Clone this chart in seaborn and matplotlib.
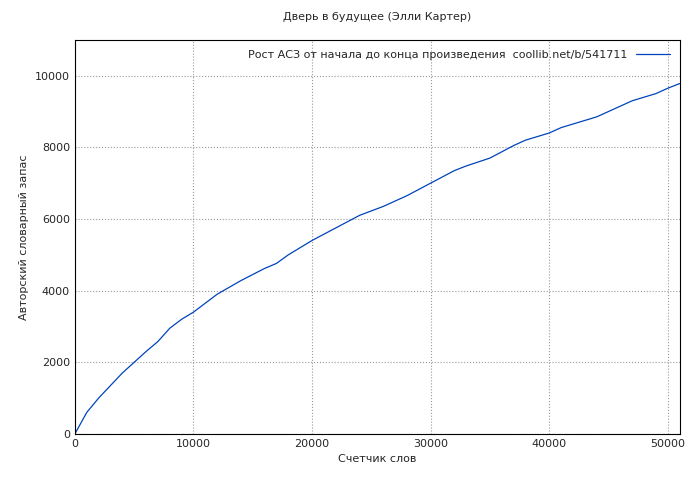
import matplotlib
matplotlib.use('Agg')
import matplotlib.pyplot as plt
import seaborn as sns
import pandas as pd

# word counter vs vocabulary
words = [0, 1000, 2000, 3000, 4000, 5000, 6000, 7000, 8000, 9000, 10000, 12000,
         14000, 16000, 17000, 18000, 20000, 22000, 24000, 26000, 28000, 30000,
         32000, 33000, 35000, 37000, 38000, 40000, 41000, 44000, 46000, 47000,
         49000, 50000, 51000]
vocab = [0, 600, 1000, 1350, 1700, 2000, 2300, 2580, 2950, 3200, 3400, 3900,
         4280, 4620, 4760, 5000, 5400, 5750, 6100, 6350, 6650, 7000, 7350,
         7480, 7700, 8050, 8200, 8400, 8550, 8850, 9150, 9300, 9500, 9650, 9780]
df = pd.DataFrame({'words': words, 'vocab': vocab})

sns.set_style('white')
plt.rcParams['font.family'] = ['DejaVu Sans']
fig = plt.figure(figsize=(7, 4.8), dpi=100)
ax = fig.add_axes([0.107, 0.096, 0.864, 0.821])
sns.lineplot(data=df, x='words', y='vocab', ax=ax, color='#0044bb', linewidth=0.9,
             label='Рост АСЗ от начала до конца произведения  coollib.net/b/541711')
ax.set_xlim(0, 51000)
ax.set_ylim(0, 11000)
ax.set_xticks(range(0, 51000, 10000))
ax.set_yticks(range(0, 11000, 2000))
ax.grid(True, color='#999999', linestyle=':', linewidth=0.8)
for s in ax.spines.values():
    s.set_color('black')
    s.set_linewidth(0.8)
ax.tick_params(labelsize=8, direction='in', length=4)
ax.set_xlabel('Счетчик слов', fontsize=8)
ax.set_ylabel('Авторский словарный запас', fontsize=8)
ax.set_title('Дверь в будущее (Элли Картер)', fontsize=8, pad=14)
leg = ax.legend(loc='upper right', fontsize=8, frameon=False, markerfirst=False,
                handlelength=3)
fig.savefig('out.png', dpi=100)
